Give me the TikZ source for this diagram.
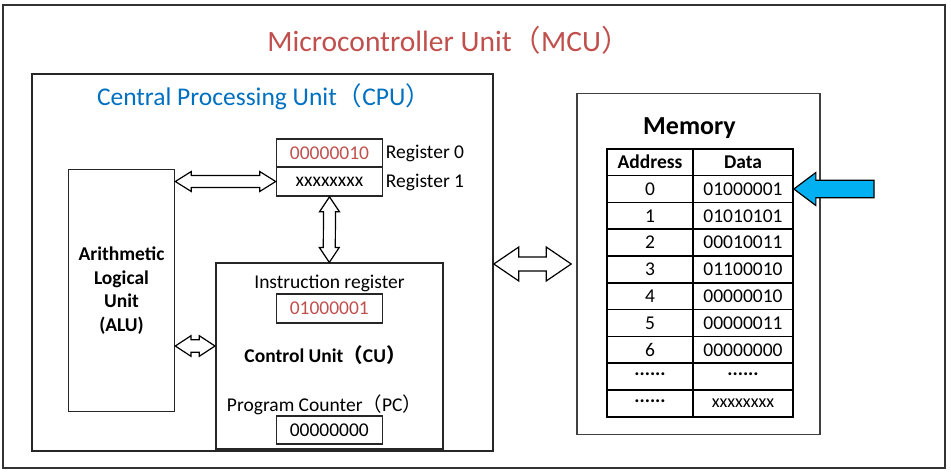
\documentclass[tikz,border=0pt]{standalone}
\usepackage{fontspec}
\setmainfont{Carlito}
\newfontfamily\cjk{Noto Sans CJK SC}
\usetikzlibrary{calc}

\definecolor{titlered}{RGB}{192,80,77}
\definecolor{titleblue}{RGB}{0,112,192}
\definecolor{arrowblue}{RGB}{0,176,240}

\tikzset{
  box/.style={draw=black!85, line width=1.6pt, inner sep=0pt},
  cell/.style={draw=black, line width=1.7pt, inner sep=0pt, minimum height=26.8, font=\fontsize{19.5}{22}\selectfont},
  txt/.style={inner sep=0.75pt, font=\fontsize{19.5}{22}\selectfont},
  hollow/.style={draw=black, fill=white, line width=1.2pt, line join=miter},
}

% hollow double arrow, horizontal: from, to, head length, head half width, shaft half width
\newcommand{\hdblarrow}[5]{%
  \draw[hollow] (#1) -- ++(#3,-#4) -- ++(0,#4-#5) -- ($(#2)+(-#3,-#5)$) -- ++(0,#5-#4) -- (#2)
    -- ++(-#3,#4) -- ++(0,#5-#4) -- ($(#1)+(#3,#5)$) -- ++(0,#4-#5) -- cycle;}
% same, vertical
\newcommand{\vdblarrow}[5]{%
  \draw[hollow] (#1) -- ++(-#4,#3) -- ++(#4-#5,0) -- ($(#2)+(-#5,-#3)$) -- ++(#5-#4,0) -- (#2)
    -- ++(#4,-#3) -- ++(#5-#4,0) -- ($(#1)+(#5,#3)$) -- ++(#4-#5,0) -- cycle;}

\begin{document}
\begin{tikzpicture}[x=1pt,y=1pt,yscale=-1,xscale=1]
\useasboundingbox (0,0) rectangle (951,474);

%Outer frame: MCU
\node[box, draw=black!80, line width=2.2pt, minimum width=942, minimum height=463] (mcu) at (474,236.5) {};
\node[txt, text=titlered, font=\fontsize{29.5}{32}\selectfont] (mcutitle) at (449,40) {Microcontroller Unit{\cjk （}MCU{\cjk ）}};

%CPU
\node[box, minimum width=461, minimum height=377] (cpu) at (262.5,262.5) {};
\node[txt, text=titleblue, font=\fontsize{25.5}{28}\selectfont] (cputitle) at (264,97) {Central Processing Unit{\cjk （}CPU{\cjk ）}};

%ALU
\node[box, minimum width=106, minimum height=242, align=center, font=\bfseries\fontsize{19.5}{23.5}\selectfont] (alu) at (121.5,290.5) {Arithmetic\\Logical\\Unit\\(ALU)};

%Registers
\node[box, minimum width=106, minimum height=28, txt, text=titlered] (reg0) at (329.5,153) {00000010};
\node[box, minimum width=106, minimum height=29, txt] (reg1) at (329.5,181.5) {xxxxxxxx};
\node[txt, anchor=west] (reg0lab) at (385,153) {Register 0};
\node[txt, anchor=west] (reg1lab) at (385,182) {Register 1};

%Control unit
\node[box, minimum width=227, minimum height=186] (cu) at (329.3,356.2) {};
\node[txt] (irlab) at (329.5,283) {Instruction register};
\node[box, minimum width=106, minimum height=29, txt, text=titlered] (ir) at (329.3,308.2) {01000001};
\node[txt, font=\bfseries\fontsize{19.5}{22}\selectfont] (cutitle) at (325,355) {Control Unit{\cjk （}CU{\cjk ）}};
\node[txt] (pclab) at (324.5,405) {Program Counter{\cjk （}PC{\cjk ）}};
\node[box, minimum width=106, minimum height=28, txt] (pc) at (329.3,430.2) {00000000};

%Memory
\node[box, draw=black!75, minimum width=243, minimum height=341] (mem) at (698.5,264) {};
\node[txt, font=\bfseries\fontsize{26}{30}\selectfont] (memtitle) at (689.5,128) {Memory};
\node[cell, minimum width=86, font=\bfseries\fontsize{19.5}{22}\selectfont] (addrh) at (650,162.2) {Address};
\node[cell, minimum width=100, font=\bfseries\fontsize{19.5}{22}\selectfont] (datah) at (743,162.2) {Data};
\foreach \a/\d [count=\i] in {0/01000001, 1/01010101, 2/00010011, 3/01100010, 4/00000010, 5/00000011, 6/00000000}{
  \node[cell, minimum width=86] (addr\i) at (650,162.2+26.8*\i) {\a};
  \node[cell, minimum width=100] (data\i) at (743,162.2+26.8*\i) {\d};
}
\node[cell, minimum width=86] (addr8) at (650,162.2+26.8*8) {\raisebox{0.25em}{\bfseries......}};
\node[cell, minimum width=100] (data8) at (743,162.2+26.8*8) {\raisebox{0.25em}{\bfseries......}};
\node[cell, minimum width=86] (addr9) at (650,162.2+26.8*9) {\raisebox{0.25em}{\bfseries......}};
\node[cell, minimum width=100, font=\fontsize{18}{20}\selectfont] (data9) at (743,162.2+26.8*9) {xxxxxxxx};

%Connectors
\coordinate (alucu) at (174,346);
\hdblarrow{alu.east |- reg1.west}{reg1.west}{16}{10}{6}
\vdblarrow{reg1.south}{cu.north}{15}{10}{6}
\hdblarrow{alu.east |- alucu}{cu.west |- alucu}{15.7}{10.3}{6.2}
\hdblarrow{cpu.east |- mem.west}{$(mem.west)+(-5,0)$}{25}{17}{7}

%Pointer to address 0
\coordinate (bluetail) at (874,189);
\draw[fill=arrowblue, draw=black, line width=1.2pt] (data1.east) -- ++(22,-16.5) -- ++(0,7.8) -- ($(bluetail)+(0,-8.7)$)
  -- ($(bluetail)+(0,8.7)$) -- ($(data1.east)+(22,8.7)$) -- ++(0,7.8) -- cycle;
\end{tikzpicture}
\end{document}
